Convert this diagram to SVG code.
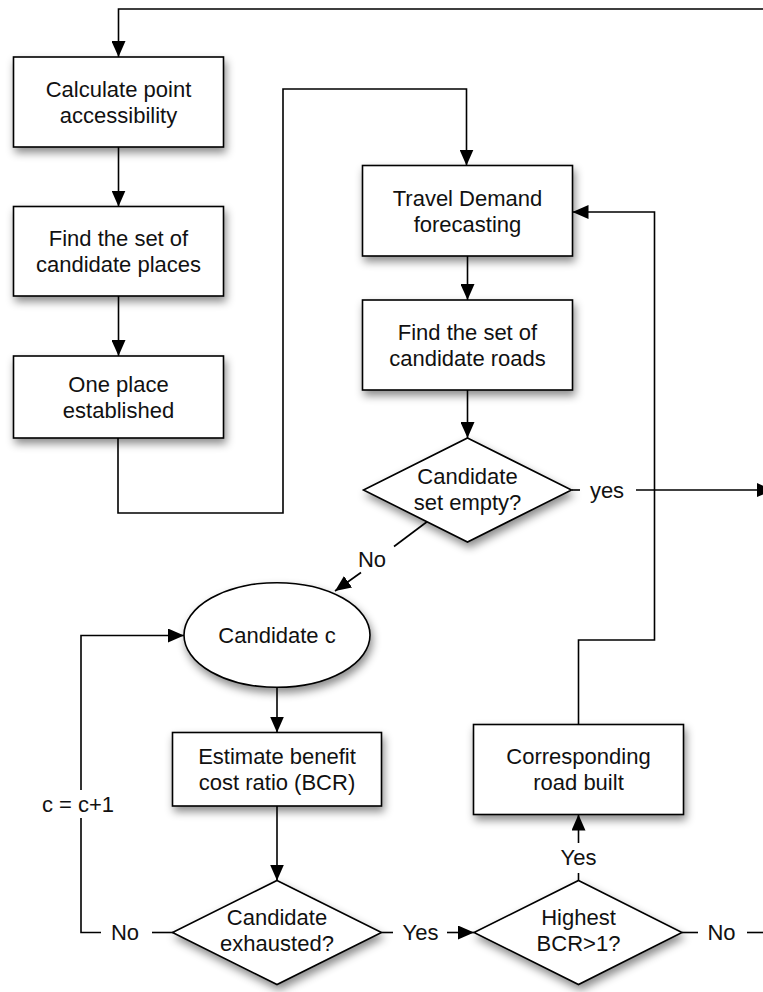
<svg xmlns="http://www.w3.org/2000/svg" width="763" height="992" viewBox="0 0 763 992">
<style>
.n{fill:#fff;stroke:#000;stroke-width:1.6;filter:url(#sh)}
.c{fill:none;stroke:#000;stroke-width:1.6}
.a{marker-end:url(#ah)}
text{font-family:"Liberation Sans",Arial,Helvetica,sans-serif;font-size:22px;fill:#111;text-anchor:middle}
</style>
<defs>
<filter id="sh" x="-20%" y="-20%" width="150%" height="160%">
<feDropShadow dx="2" dy="5" stdDeviation="4" flood-color="#000" flood-opacity="0.45"/>
</filter>
<marker id="ah" markerUnits="userSpaceOnUse" markerWidth="16" markerHeight="14" refX="16" refY="7" orient="auto">
<path d="M0,0 L16,7 L0,14 z" fill="#000"/>
</marker>
</defs>
<rect width="763" height="992" fill="#fff"/>
<g id="connectors">
<path class="c a" d="M763,9 H118.5 V57"/>
<path class="c a" d="M118.5,147 V206.5"/>
<path class="c a" d="M118.5,296 V356"/>
<path class="c a" d="M118,438 V513 H283 V89 H466.5 V165.5"/>
<path class="c a" d="M467.5,256 V300"/>
<path class="c a" d="M467.5,390 V438"/>
<path class="c" d="M572,490 H580"/>
<path class="c a" d="M636,490 H773"/>
<path class="c" d="M428,521 L394,546.5"/>
<path class="c a" d="M361,572.5 L335,591"/>
<path class="c a" d="M277,687.5 V732.5"/>
<path class="c a" d="M277,806 V880.5"/>
<path class="c" d="M173,932.5 H152"/>
<path class="c" d="M101,932.5 H81 V818"/>
<path class="c a" d="M81,790 V635.5 H184"/>
<path class="c" d="M381.5,932.5 H393"/>
<path class="c a" d="M447,932.5 H474"/>
<path class="c" d="M578.5,880.5 V873"/>
<path class="c a" d="M578.5,843 V814.5"/>
<path class="c a" d="M578.5,724.5 V640 H654.5 V212 H572.5"/>
<path class="c" d="M682,932.5 H698"/>
<path class="c" d="M747,932.5 H763"/>
<text x="607" y="497.5">yes</text>
<text x="372" y="567">No</text>
<text x="78" y="812">c = c+1</text>
<text x="125" y="940">No</text>
<text x="420.5" y="940">Yes</text>
<text x="578.5" y="865">Yes</text>
<text x="721.5" y="940">No</text>
</g>
<g id="calc">
<rect class="n" x="13.5" y="57" width="210" height="90"/>
<text x="118.5" y="96.5">Calculate point</text>
<text x="118.5" y="122.5">accessibility</text>
</g>
<g id="places">
<rect class="n" x="13.5" y="206.5" width="210" height="89.5"/>
<text x="118.5" y="246">Find the set of</text>
<text x="118.5" y="272">candidate places</text>
</g>
<g id="established">
<rect class="n" x="13.5" y="356" width="210" height="82"/>
<text x="118.5" y="391.5">One place</text>
<text x="118.5" y="417.5">established</text>
</g>
<g id="travel">
<rect class="n" x="362.5" y="165.5" width="210" height="90.5"/>
<text x="467.5" y="205.5">Travel Demand</text>
<text x="467.5" y="231.5">forecasting</text>
</g>
<g id="roads">
<rect class="n" x="362.5" y="300" width="210" height="90"/>
<text x="467.5" y="340">Find the set of</text>
<text x="467.5" y="366">candidate roads</text>
</g>
<g id="empty">
<polygon class="n" points="467.5,438 571.5,490 467.5,542 363.5,490"/>
<text x="467.5" y="483.5">Candidate</text>
<text x="467.5" y="509.5">set empty?</text>
</g>
<g id="candidate">
<ellipse class="n" cx="277" cy="635" rx="93" ry="52.3"/>
<text x="277" y="642.7">Candidate c</text>
</g>
<g id="estimate">
<rect class="n" x="172.5" y="732.5" width="209" height="73.5"/>
<text x="277" y="764">Estimate benefit</text>
<text x="277" y="790">cost ratio (BCR)</text>
</g>
<g id="exhausted">
<polygon class="n" points="277,880.5 381.5,932.5 277,984.5 172.5,932.5"/>
<text x="277" y="924.5">Candidate</text>
<text x="277" y="950.5">exhausted?</text>
</g>
<g id="highest">
<polygon class="n" points="578.5,880.5 682,932.5 578.5,984.5 474,932.5"/>
<text x="578.5" y="925">Highest</text>
<text x="578.5" y="950.5">BCR&gt;1?</text>
</g>
<g id="built">
<rect class="n" x="473.5" y="724.5" width="210" height="90"/>
<text x="578.5" y="764">Corresponding</text>
<text x="578.5" y="790">road built</text>
</g>
</svg>
